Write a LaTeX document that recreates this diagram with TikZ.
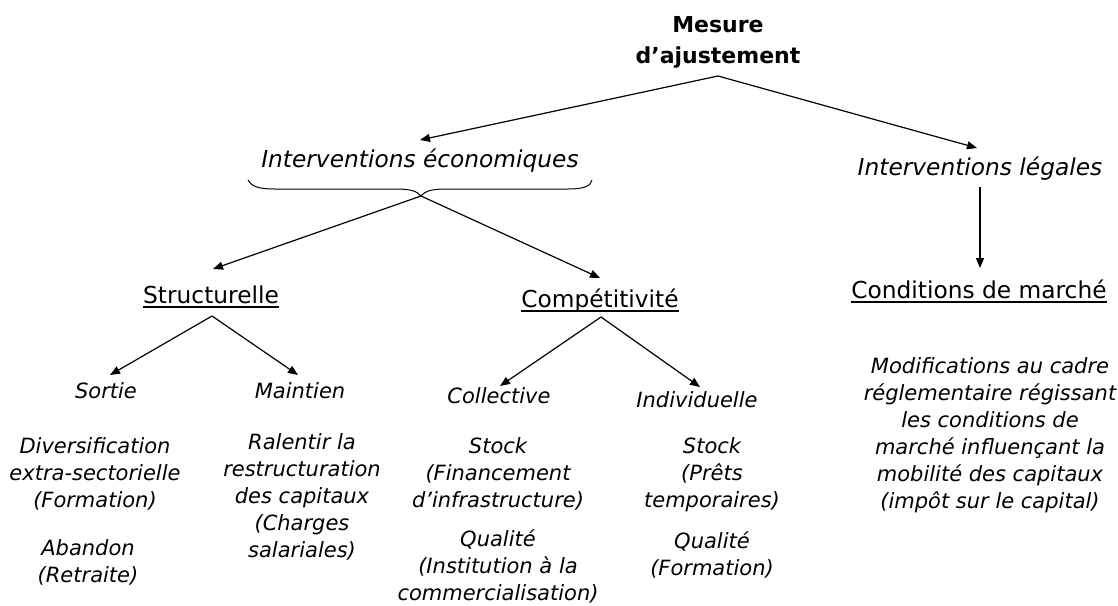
\documentclass[tikz,border=0pt]{standalone}
\usepackage{fontspec}
\setmainfont{DejaVu Sans}
\usetikzlibrary{arrows.meta}
\begin{document}
\begin{tikzpicture}[x=1pt,y=-1pt,
  lbl/.style={inner sep=0pt, anchor=base, align=center},
  small/.style={lbl, font=\fontsize{21}{27}\selectfont\itshape},
  big/.style={lbl, font=\fontsize{23.3}{28}\selectfont},
  bigit/.style={lbl, font=\fontsize{23.3}{28}\selectfont\itshape},
  titre/.style={lbl, font=\fontsize{22}{31}\selectfont\bfseries},
  arr/.style={line width=1.2pt, -{Triangle[length=10pt,width=8pt]}},
  ul/.style={line width=1.2pt},
  brace/.style={line width=1pt}]
\useasboundingbox (0,0) rectangle (1118,605);

% texts (multi-line nodes are placed by the baseline of their last line)
\node[titre] (mesure) at (718,63) {Mesure\\d’ajustement};
\node[bigit] (eco) at (420,167) {Interventions économiques};
\node[bigit] (leg) at (980,175) {Interventions légales};
\node[big] (struct) at (211,303) {Structurelle};
\node[big] (comp) at (600,307) {Compétitivité};
\node[big] (cond) at (979,298) {Conditions de marché};
\node[small] (sortie) at (106,398) {Sortie};
\node[small] (maint) at (300,398) {Maintien};
\node[small] (coll) at (499,403) {Collective};
\node[small] (indiv) at (697,407) {Individuelle};
\node[small] (divers) at (95,507) {Diversification\\extra-sectorielle\\(Formation)};
\node[small] (aband) at (88,582) {Abandon\\(Retraite)};
\node[small] (ralent) at (302,557) {Ralentir la\\restructuration\\des capitaux\\(Charges\\salariales)};
\node[small] (stockc) at (498,507) {Stock\\(Financement\\d’infrastructure)};
\node[small] (qualc) at (498,600) {Qualité\\(Institution à la\\commercialisation)};
\node[small] (stocki) at (712,507) {Stock\\(Prêts\\temporaires)};
\node[small] (quali) at (712,575) {Qualité\\(Formation)};
\node[small] (modif) at (990,508) {Modifications au cadre\\réglementaire régissant\\les conditions de\\marché influençant la\\mobilité des capitaux\\(impôt sur le capital)};

% underlines
\draw[ul] ([yshift=-4pt]struct.base west) -- ([yshift=-4pt]struct.base east);
\draw[ul] ([yshift=-4pt]comp.base west) -- ([yshift=-4pt]comp.base east);
\draw[ul] ([yshift=-4pt]cond.base west) -- ([yshift=-4pt]cond.base east);

% brace under "Interventions économiques"
\coordinate (bL) at (248,180);
\coordinate (bR) at (592,180);
\coordinate (bT) at (421,196);
\draw[brace] (bL) .. controls (251,186) and (258,189) .. (274,189) -- (396,189)
  .. controls (410,189) and (417,191) .. (bT)
  .. controls (425,191) and (432,189) .. (446,189) -- (568,189)
  .. controls (584,189) and (591,186) .. (bR);

% connector end points
\coordinate (mA) at (718,76);
\coordinate (ecoT) at (420,140);
\coordinate (legT) at (977,148);
\coordinate (legS) at (980,187);
\coordinate (condT) at (980,268);
\coordinate (structT) at (213,269);
\coordinate (compT) at (600,278);
\coordinate (sA) at (212,316);
\coordinate (sortieT) at (110,375);
\coordinate (maintT) at (298,375);
\coordinate (cA) at (601,317);
\coordinate (collT) at (500,386);
\coordinate (indivT) at (700,387);

\draw[arr] (mA) -- (ecoT);
\draw[arr] (mA) -- (legT);
\draw[arr] (legS) -- (condT);
\draw[arr] (bT) -- (structT);
\draw[arr] (bT) -- (compT);
\draw[arr] (sA) -- (sortieT);
\draw[arr] (sA) -- (maintT);
\draw[arr] (cA) -- (collT);
\draw[arr] (cA) -- (indivT);
\end{tikzpicture}
\end{document}
